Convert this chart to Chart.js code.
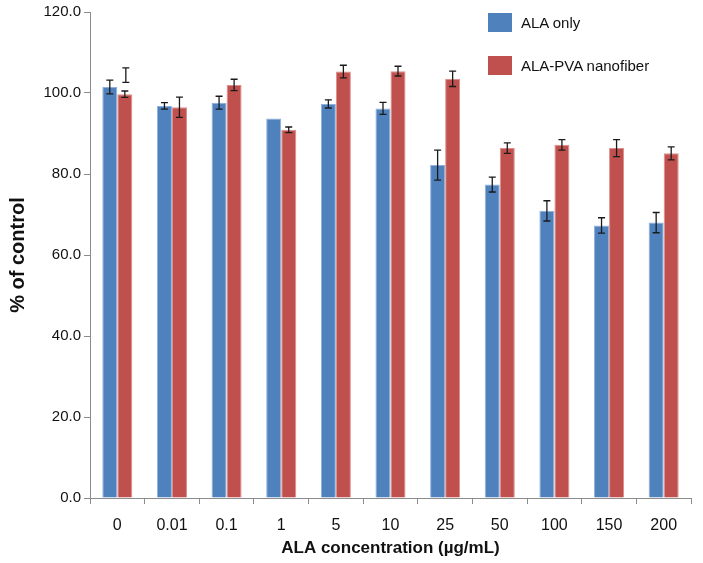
<!DOCTYPE html>
<html>
<head>
<meta charset="utf-8">
<script src="https://cdn.jsdelivr.net/npm/chart.js@4"></script>
<style>
    body { margin: 0; background: #fff; }
    #wrap { position: relative; width: 703px; height: 563px; }
    #legend { position: absolute; left: 488px; top: 12px; font-family: "Liberation Sans", Arial, sans-serif; font-size: 15px; color: #111; }
    .item { display: flex; align-items: center; height: 21px; margin-bottom: 22px; }
    .box { width: 24px; height: 19px; margin-right: 9px; }
</style>
</head>
<body>
<div id="wrap">
    <canvas id="myChart" width="703" height="563"></canvas>
    <div id="legend"></div>
</div>
<script>
const labels = ['0', '0.01', '0.1', '1', '5', '10', '25', '50', '100', '150', '200'];
const seriesNames = ['ALA only', 'ALA-PVA nanofiber'];
const alaOnly = [101.5, 96.8, 97.6, 93.7, 97.3, 96.2, 82.2, 77.4, 70.9, 67.3, 68.0];
const alaOnlyErr = [1.7, 0.8, 1.6, 0, 1.0, 1.5, 3.7, 1.85, 2.5, 1.9, 2.5];
const alaPva = [99.7, 96.5, 102.0, 90.9, 105.3, 105.4, 103.5, 86.4, 87.2, 86.4, 85.1];
const alaPvaErr = [0.8, 2.5, 1.4, 0.7, 1.55, 1.2, 1.9, 1.3, 1.3, 2.1, 1.6];
// the loose error bar floating above the first red bar
const strayErr = { index: 0, value: 104.4, err: 1.8 };
const yTicks = [0, 20, 40, 60, 80, 100, 120];

const colors = ['#4F81BD', '#C0504D'];
const edges = ['#8fb0da', '#dc8e8c'];
const errs = [alaOnlyErr, alaPvaErr];

const errorBars = {
    id: 'errorBars',
    afterDatasetsDraw(chart) {
        const ctx = chart.ctx;
        const y = chart.scales.y;
        ctx.save();
        ctx.strokeStyle = '#1a1a1a';
        ctx.lineWidth = 1.3;
        const draw = (x, v, e) => {
            if (!e) return;
            const top = y.getPixelForValue(v + e);
            const bot = y.getPixelForValue(v - e);
            ctx.beginPath();
            ctx.moveTo(x, top); ctx.lineTo(x, bot);
            ctx.moveTo(x - 3.5, top); ctx.lineTo(x + 3.5, top);
            ctx.moveTo(x - 3.5, bot); ctx.lineTo(x + 3.5, bot);
            ctx.stroke();
        };
        chart.data.datasets.forEach((ds, d) => {
            chart.getDatasetMeta(d).data.forEach((bar, i) => {
                draw(bar.x, ds.data[i], errs[d][i]);
            });
        });
        const redBar = chart.getDatasetMeta(1).data[strayErr.index];
        draw(redBar.x + 1, strayErr.value, strayErr.err);
        ctx.restore();
    }
};

const data = {
    labels: labels,
    datasets: [
        {
            label: seriesNames[0],
            data: alaOnly,
            backgroundColor: colors[0],
            borderColor: edges[0],
            borderWidth: 1,
            categoryPercentage: 0.55,
            barPercentage: 1
        },
        {
            label: seriesNames[1],
            data: alaPva,
            backgroundColor: colors[1],
            borderColor: edges[1],
            borderWidth: 1,
            categoryPercentage: 0.55,
            barPercentage: 1
        }
    ]
};

const tickFont = { family: '"Liberation Sans", Arial, sans-serif', size: 15 };

const config = {
    type: 'bar',
    data: data,
    options: {
        responsive: false,
        animation: false,
        layout: { padding: { top: 5, right: 12, left: 0, bottom: 0 } },
        plugins: {
            legend: { display: false },
            tooltip: { enabled: false }
        },
        scales: {
            x: {
                grid: { drawOnChartArea: false, offset: true, tickLength: 6, color: '#8c8c8c' },
                border: { color: '#8c8c8c', width: 1 },
                ticks: { color: '#111', font: { ...tickFont, size: 16 }, padding: 12, maxRotation: 0 },
                title: {
                    display: true,
                    text: 'ALA concentration (µg/mL)',
                    color: '#111',
                    font: { family: '"Liberation Sans", Arial, sans-serif', size: 17, weight: 'bold' },
                    padding: { top: 4 }
                },
                afterFit: (scale) => { scale.height = 65; }
            },
            y: {
                min: 0,
                max: 120,
                afterBuildTicks: (scale) => { scale.ticks = yTicks.map(v => ({ value: v })); },
                grid: { drawOnChartArea: false, tickLength: 6, color: '#8c8c8c' },
                border: { color: '#8c8c8c', width: 1 },
                ticks: {
                    color: '#111',
                    font: tickFont,
                    padding: 3,
                    callback: (v) => Number(v).toFixed(1)
                },
                title: {
                    display: true,
                    text: '% of control',
                    color: '#111',
                    font: { family: '"Liberation Sans", Arial, sans-serif', size: 20, weight: 'bold' },
                    padding: { top: 6, bottom: 4 }
                },
                afterFit: (scale) => { scale.width = 90; }
            }
        }
    },
    plugins: [errorBars]
};

const myChart = new Chart(document.getElementById('myChart'), config);

// html legend
seriesNames.forEach((name, i) => {
    const row = document.createElement('div');
    row.className = 'item';
    row.innerHTML = `<div class="box" style="background:${colors[i]}"></div><span>${name}</span>`;
    document.getElementById('legend').appendChild(row);
});
</script>
</body>
</html>
